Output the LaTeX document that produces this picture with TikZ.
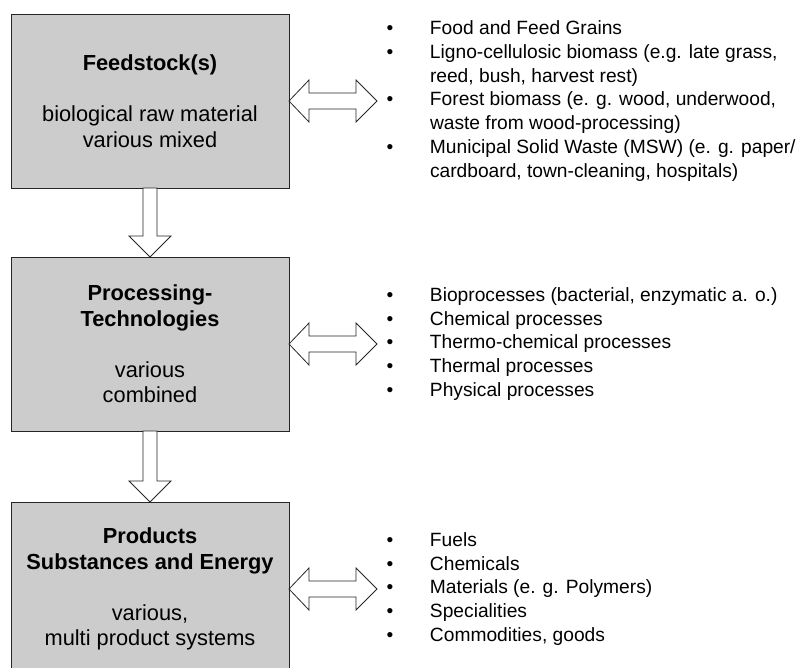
\documentclass[tikz,border=0pt]{standalone}
\usepackage{fontspec}
\setmainfont{Liberation Sans}
\usetikzlibrary{positioning}

\definecolor{boxgray}{RGB}{204,204,204}
\newcommand\bul[1]{\makebox[43.4pt][l]{\textbullet}#1}
\newcommand\bulcont[1]{\hspace*{43.4pt}#1}

\begin{document}
\begin{tikzpicture}[x=1pt, y=-1pt,
  box/.style = {draw=black!85, fill=boxgray, line width=0.8pt, minimum width=278pt, minimum height=174pt, inner sep=0pt, outer sep=0pt, align=center, font=\fontsize{21.8pt}{25.5pt}\selectfont},
  list/.style = {align=left, inner sep=0pt, outer sep=0pt, font=\fontsize{19.2pt}{23.8pt}\selectfont},
  fatarrow/.style = {draw=black!85, fill=white, line width=0.8pt, line join=miter}]
\useasboundingbox (0,0) rectangle (804,668);
\clip (0,0) rectangle (804,668);
\node[box] (1) at (150,101) {\textbf{Feedstock(s)}\\[25.5pt] biological raw material\\ various mixed};
\node[box] (2) [below=69pt of 1] {\textbf{Processing-}\\ \textbf{Technologies}\\[25.5pt] various\\ combined};
\node[box] (3) [below=71pt of 2] {\textbf{Products}\\ \textbf{Substances and Energy}\\[25.5pt] various,\\ multi product systems};
\node[list] (4) [right=97.6pt of 1] {\bul{Food and Feed Grains}\\ \bul{Ligno-cellulosic biomass (e.g. late grass,}\\ \bulcont{reed, bush, harvest rest)}\\ \bul{Forest biomass (e. g. wood, underwood,}\\ \bulcont{waste from wood-processing)}\\ \bul{Municipal Solid Waste (MSW) (e. g. paper/}\\ \bulcont{cardboard, town-cleaning, hospitals)}};
\node[list] (5) [right=97.6pt of 2] {\bul{Bioprocesses (bacterial, enzymatic a. o.)}\\ \bul{Chemical processes}\\ \bul{Thermo-chemical processes}\\ \bul{Thermal processes}\\ \bul{Physical processes}};
\node[list] (6) [right=97.6pt of 3] {\bul{Fuels}\\ \bul{Chemicals}\\ \bul{Materials (e. g. Polymers)}\\ \bul{Specialities}\\ \bul{Commodities, goods}};
\foreach \a/\b in {1/2, 2/3}
  \draw[fatarrow] ([xshift=-7pt]\a.south) -- ([shift={(-7pt,21pt)}]\b.north) -- ([shift={(-21pt,21pt)}]\b.north) -- (\b.north) -- ([shift={(21pt,21pt)}]\b.north) -- ([shift={(7pt,21pt)}]\b.north) -- ([xshift=7pt]\a.south) -- cycle;
\foreach \a/\b in {1/4, 2/5, 3/6} {
  \coordinate (t\b) at ([xshift=-9.6pt]\b.west);
  \draw[fatarrow] (\a.east) -- ([shift={(20pt,21pt)}]\a.east) -- ([shift={(20pt,8pt)}]\a.east) -- ([shift={(-21pt,8pt)}]t\b) -- ([shift={(-21pt,21pt)}]t\b) -- (t\b) -- ([shift={(-21pt,-21pt)}]t\b) -- ([shift={(-21pt,-8pt)}]t\b) -- ([shift={(20pt,-8pt)}]\a.east) -- ([shift={(20pt,-21pt)}]\a.east) -- cycle;
}
\end{tikzpicture}
\end{document}
